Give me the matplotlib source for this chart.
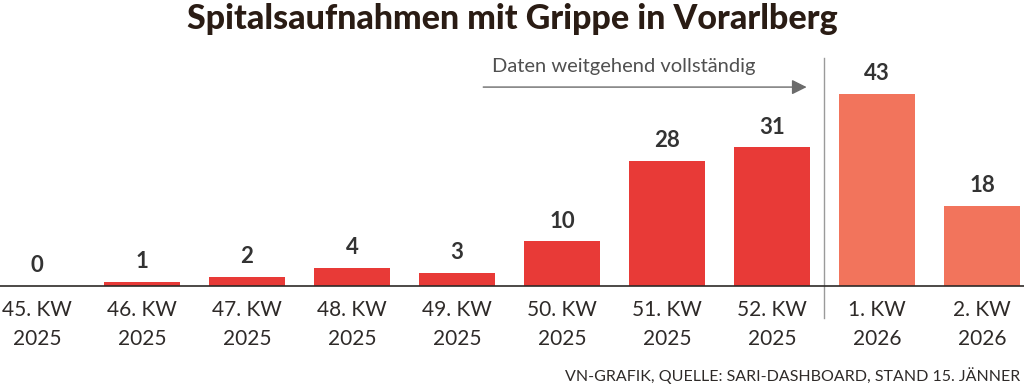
import matplotlib
matplotlib.use("Agg")
import matplotlib.pyplot as plt

weeks = ["45. KW", "46. KW", "47. KW", "48. KW", "49. KW", "50. KW", "51. KW", "52. KW", "1. KW", "2. KW"]
years = ["2025", "2025", "2025", "2025", "2025", "2025", "2025", "2025", "2026", "2026"]
values = [0, 1, 2, 4, 3, 10, 28, 31, 43, 18]

FONT = ["Lato", "DejaVu Sans"]
RED = "#e83a37"
SALMON = "#f2745c"
DARK = "#2e2a28"
colors = [RED if y == "2025" else SALMON for y in years]

fig = plt.figure(figsize=(10.24, 3.9), dpi=100)
ax = fig.add_axes([0, 1 - 286 / 390, 1, (286 - 58) / 390])
x = list(range(len(values)))
ax.bar(x, values, width=0.72, color=colors, zorder=2)
ax.set_xlim(-37 / 105, (1024 - 37) / 105)
ax.set_ylim(0, (286 - 58) / 4.47)
for s in ["top", "right", "left"]:
    ax.spines[s].set_visible(False)
ax.spines["bottom"].set_color(DARK)
ax.spines["bottom"].set_linewidth(1.2)
ax.set_yticks([])
ax.set_xticks(x)
ax.set_xticklabels([f"{w}\n{y}" for w, y in zip(weeks, years)], fontsize=15,
                   family=FONT, color=DARK, linespacing=1.55)
ax.tick_params(axis="x", length=0, pad=10)

for xi, v in zip(x, values):
    ax.annotate(str(v), (xi, v), xytext=(0, 7), textcoords="offset points",
                ha="center", va="bottom", fontsize=16, fontweight="bold",
                family=FONT, color="#333333")

# separator
ax.plot([7.5, 7.5], [1.0, -32 / 228], transform=ax.get_xaxis_transform(),
        color="#9a9a9a", lw=1, clip_on=False)

# arrow
ax.annotate("", xy=(7.33, 44.5), xytext=(4.25, 44.5),
            arrowprops=dict(arrowstyle="-|>,head_length=0.9,head_width=0.45",
                        color="#6b6b6b", lw=1, shrinkA=0, shrinkB=0))
ax.text(4.33, 49.0, "Daten weitgehend vollständig", fontsize=14.5, family=FONT,
        color="#505050", ha="left", va="center")

fig.text(0.5, 0.952, "Spitalsaufnahmen mit Grippe in Vorarlberg", ha="center", va="center",
         fontsize=24.5, fontweight="black", family=FONT, color="#2a1c14")
fig.text(0.996, 0.038, "VN-GRAFIK, QUELLE: SARI-DASHBOARD, STAND 15. JÄNNER", ha="right",
         va="center", fontsize=11.5, family=FONT, color=DARK)

fig.savefig("out.png", dpi=100)
